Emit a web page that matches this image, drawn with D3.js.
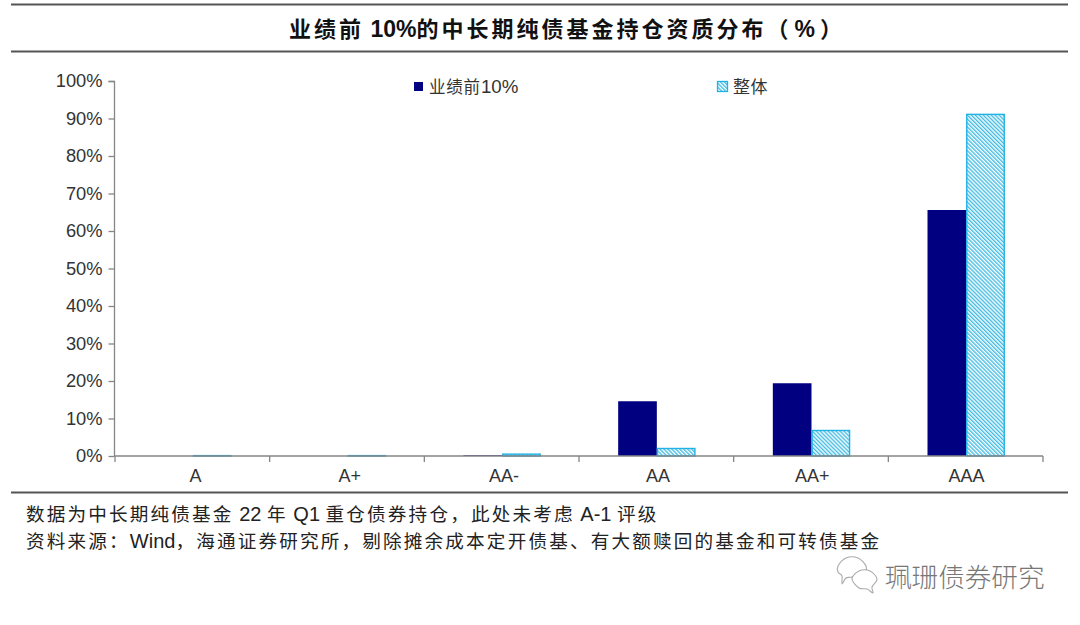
<!DOCTYPE html>
<html><head><meta charset="utf-8">
<script src="https://cdnjs.cloudflare.com/ajax/libs/d3/7.8.5/d3.min.js"></script>
<style>
html,body{margin:0;background:#fff}
text{font-family:"Liberation Sans","Noto Sans CJK SC",sans-serif}
</style></head><body><svg id="c" width="1080" height="625"></svg>
<script>
const categories=["A","A+","AA-","AA","AA+","AAA"];
const seriesTop=[0,0,0.2,14.6,19.4,65.6];
const seriesAll=[0.1,0.1,0.5,2.0,6.8,91.1];
const seriesNames=["业绩前10%","整体"];
const yTicks=[0,10,20,30,40,50,60,70,80,90,100];
const titleText="业绩前 10%的中长期纯债基金持仓资质分布（%）";
const notes=["数据为中长期纯债基金 22 年 Q1 重仓债券持仓，此处未考虑 A-1 评级","资料来源：Wind，海通证券研究所，剔除摊余成本定开债基、有大额赎回的基金和可转债基金"];
const watermark="珮珊债券研究";

const svg=d3.select("#c");
const defs=svg.append("defs");
const pat=defs.append("pattern").attr("id","hatch").attr("patternUnits","userSpaceOnUse")
  .attr("width",2.8).attr("height",2.8).attr("patternTransform","rotate(-45)");
pat.append("rect").attr("width",2.8).attr("height",2.8).attr("fill","#fff");
pat.append("rect").attr("width",1.4).attr("height",2.8).attr("fill","#45bce2");

// Latin and CJK runs have different sizes and spacing in the reference
function runs(sel,text,cjkSize,cjkGap,latSize,latGap){
  text.match(/[\x00-\x7f]+|[^\x00-\x7f]+/g).forEach(r=>{
    const lat=/^[\x00-\x7f]/.test(r);
    sel.append("tspan").attr("font-size",lat?latSize:cjkSize).attr("letter-spacing",lat?latGap:cjkGap).text(r);
  });
}

const x=d3.scaleBand().domain(categories).range([115.5,1043.5]);
const labelX=d3.scalePoint().domain(categories).range([195,966]);
const inner=d3.scaleBand().domain([0,1]).range([x.bandwidth()/4,x.bandwidth()*3/4]);
const y=d3.scaleLinear().domain([0,100]).range([456,81]);
const axisC="#868686", txt="#333";

// rules
[[4.5,2],[51.5,2],[492.5,2]].forEach(([yy,w])=>svg.append("line").attr("x1",11).attr("x2",1068)
  .attr("y1",yy).attr("y2",yy).attr("stroke","#555").attr("stroke-width",w));

const tt=svg.append("text").attr("x",289).attr("y",37).attr("font-weight",700).attr("fill","#111").attr("xml:space","preserve");
runs(tt,titleText,22,3,23,0);
const tspans=tt.selectAll("tspan").nodes();
d3.select(tspans[tspans.length-2]).attr("dx",3);
d3.select(tspans[tspans.length-1]).attr("dx",5);

// bars
const g=svg.append("g");
categories.forEach((c,i)=>{
  g.append("rect").attr("x",x(c)+inner(0)).attr("width",inner.bandwidth()).attr("y",y(seriesTop[i]))
    .attr("height",y(0)-y(seriesTop[i])).attr("fill","#000080");
  g.append("rect").attr("x",x(c)+inner(1)+.6).attr("width",inner.bandwidth()-1.2).attr("y",y(seriesAll[i]))
    .attr("height",y(0)-y(seriesAll[i])).attr("fill","url(#hatch)")
    .attr("stroke","#1fb2e6").attr("stroke-width",1.4);
});

// axes
const ya=svg.append("g").attr("transform","translate(114.5,0)")
  .call(d3.axisLeft(y).tickValues(yTicks).tickSize(6).tickFormat(d=>d+"%").tickPadding(6));
ya.selectAll("path,line").attr("stroke",axisC).attr("stroke-width",1.3);
ya.select("path").attr("d","M-6,81.5H0V456");
ya.selectAll("text").attr("font-size",18.3).attr("fill",txt).style("font-family",'"Liberation Sans"');

const xa=svg.append("g").attr("transform","translate(0,456)")
  .call(d3.axisBottom(labelX).tickSize(0).tickPadding(13));
xa.select("path").attr("stroke",axisC).attr("stroke-width",1.3).attr("d","M114.5,0H1043");
xa.selectAll("text").attr("font-size",18).attr("fill",txt);
const bound=d3.range(7).map(i=>115+i*(1043-115)/6);
svg.append("g").selectAll("line").data(bound).join("line")
  .attr("x1",d=>d).attr("x2",d=>d).attr("y1",456).attr("y2",462).attr("stroke",axisC).attr("stroke-width",1.3);

// legend
svg.append("rect").attr("x",414).attr("y",82).attr("width",9).attr("height",9).attr("fill","#000080");
runs(svg.append("text").attr("x",429).attr("y",93).attr("fill",txt),seriesNames[0],16.5,.8,18.7,0);
svg.append("rect").attr("x",717.5).attr("y",81.5).attr("width",10).attr("height",10).attr("fill","url(#hatch)")
  .attr("stroke","#1fb2e6").attr("stroke-width",1.3);
runs(svg.append("text").attr("x",733).attr("y",93).attr("fill",txt),seriesNames[1],17,.5,18,0);

// notes
notes.forEach((d,i)=>{
  runs(svg.append("text").attr("x",26).attr("y",521+i*27).attr("fill","#222").attr("xml:space","preserve"),d,18.6,2.17,20,0);
});

// watermark
const wm=svg.append("g").attr("fill","#fff").attr("stroke","#aaa").attr("stroke-width",1.1);
wm.append("path").attr("d",d3.line().curve(d3.curveCardinalClosed)([[838,566],[846,558],[858,558],[866,566],[864,573],[852,577],[846,578],[842,584],[842,576],[838,572]]));
wm.append("path").attr("d",d3.line().curve(d3.curveCardinalClosed)([[852,579],[859,571],[870,571],[877,579],[872,587],[873,593],[867,589],[859,588]]));
svg.append("text").attr("x",885).attr("y",587).attr("font-size",26.6).attr("fill","#777").attr("font-weight",300).text(watermark);
</script></body></html>
